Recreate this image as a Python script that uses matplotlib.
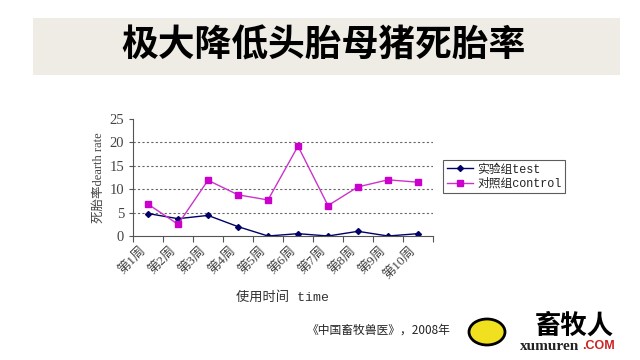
import numpy as np
import matplotlib
matplotlib.use('Agg')
from matplotlib import pyplot as plt
from matplotlib.patches import Rectangle, Ellipse

plt.rcParams['font.family'] = ['Liberation Serif', 'Noto Sans CJK SC', 'DejaVu Sans']

# data
weeks = ['第1周', '第2周', '第3周', '第4周', '第5周',
         '第6周', '第7周', '第8周', '第9周', '第10周']
test = [4.8, 3.7, 4.4, 2.0, 0.0, 0.5, 0.0, 1.0, 0.0, 0.5]
control = [6.8, 2.5, 11.9, 8.8, 7.7, 19.2, 6.5, 10.5, 12.0, 11.5]
yticks = [0, 5, 10, 15, 20, 25]

title = '极大降低头胎母猪死胎率'
source = '《中国畜牧兽医》，2008年'

mono = ['Liberation Mono', 'Noto Sans CJK SC']

fig = plt.figure(figsize=(6.4, 3.6), dpi=100)
fig.patch.set_facecolor('white')

# title band
fig.patches.append(Rectangle((33/640, 1-75/360), 587/640, 57/360,
                             transform=fig.transFigure, facecolor='#eeece5',
                             edgecolor='none', zorder=0))
fig.text(0.506, 1-46/360, title, ha='center', va='center', fontsize=26.5,
         family=['Noto Sans CJK SC'], weight='heavy', color='black')

ax = fig.add_axes([133/640, 1-236/360, 300/640, 117/360])
x = np.arange(len(weeks))
ax.plot(x, test, color='#000066', marker='D', markersize=3, lw=1,
        label='实验组test')
ax.plot(x, control, color='#cc33cc', marker='s', markersize=4.5, lw=1,
        markerfacecolor='#cc00cc', markeredgecolor='#cc00cc',
        label='对照组control')

ax.set_xlim(-0.5, len(weeks) - 0.5)
ax.set_ylim(0, 25)
ax.set_yticks(yticks)
for v in yticks[1:-1]:
    ax.axhline(v, color='#666666', lw=0.8, ls=(0, (2, 2)), zorder=0)

ax.set_xticks(np.arange(len(weeks) + 1) - 0.5)
ax.set_xticklabels([])
ax.set_xticks(x, minor=True)
ax.set_xticklabels(weeks, minor=True, rotation=45, ha='right',
                   fontsize=9.5, color='#444444')
ax.tick_params(axis='x', which='major', direction='out', length=4,
               color='#555555')
ax.tick_params(axis='x', which='minor', length=0, pad=6)
ax.tick_params(axis='y', direction='out', length=3, labelsize=10.5,
               color='#555555', labelcolor='#444444')
for s in ['top', 'right']:
    ax.spines[s].set_visible(False)
for s in ['left', 'bottom']:
    ax.spines[s].set_color('#555555')
    ax.spines[s].set_linewidth(0.8)

ax.set_xlabel('使用时间 time', fontsize=9.5, color='#333333', labelpad=7,
              family=mono)
ax.set_ylabel('死胎率dearth rate', fontsize=9, color='#444444', labelpad=3)

leg = fig.legend(loc='upper left', bbox_to_anchor=(443/640, 1-160/360),
                 fontsize=8.5, frameon=True, fancybox=False,
                 handlelength=2.2, borderpad=0.3, labelspacing=0.2,
                 handletextpad=0.4, borderaxespad=0, prop={'family': mono,
                                                          'size': 8.5})
leg.get_frame().set_edgecolor('#333333')
leg.get_frame().set_linewidth(0.8)
for t in leg.get_texts():
    t.set_color('#222222')

# source line and watermark
fig.text(307/640, 1-330/360, source, ha='left', va='center', fontsize=8.5,
         family=['Noto Sans CJK SC'], color='#222222')
fig.patches.append(Ellipse((487/640, 1-332/360), 36/640, 26/360,
                           transform=fig.transFigure, facecolor='#f0e020',
                           edgecolor='black', lw=2, zorder=3))
fig.text(574/640, 1-326/360, '畜牧人', ha='center', va='center', fontsize=19,
         family=['Noto Sans CJK SC'], weight='heavy', color='black', zorder=4)
fig.text(520/640, 1-346/360, 'xumuren', ha='left', va='center', fontsize=11,
         family=['Liberation Serif'], weight='bold', color='#222222', zorder=4)
fig.text(582/640, 1-346/360, '.COM', ha='left', va='center', fontsize=9,
         family=['Liberation Sans'], weight='bold', color='#cc2222', zorder=4)

fig.savefig('out.png', dpi=100)
